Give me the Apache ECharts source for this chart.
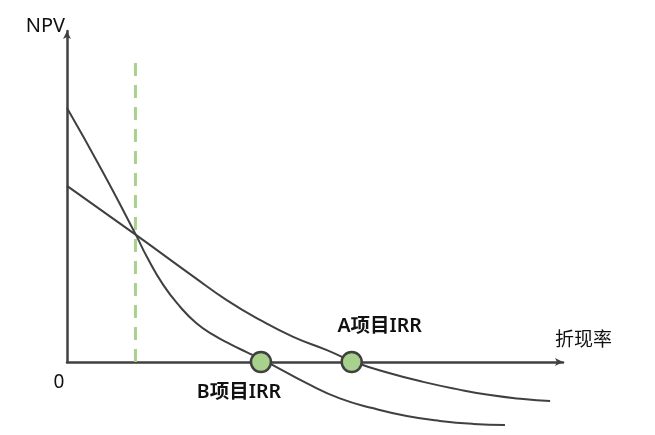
<!DOCTYPE html>
<html>
<head>
<meta charset="utf-8">
<script src="https://cdn.jsdelivr.net/npm/echarts@6/dist/echarts.min.js"></script>
<style>
html,body{margin:0;padding:0;background:#fff;}
#chart{width:655px;height:435px;}
</style>
</head>
<body>
<div id="chart"></div>
<script>
// Discount rate (x) and NPV (y), arbitrary units
const rateA = [0, 13.9, 25.5, 32.2, 38.9, 45.6, 52.4, 57.9, 65.1, 71.8, 78.6, 85.3, 92.0, 97.4];
const npvA  = [53.2, 38.4, 25.8, 18.7, 12.7, 7.6, 3.6, 0, -3.4, -6.0, -8.2, -10.0, -11.2, -11.8];
const rateB = [0, 7.0, 13.9, 16.1, 19.4, 22.8, 26.1, 29.5, 32.9, 36.2, 38.9, 41.3, 48.3, 55.0, 61.8, 68.5, 75.2, 81.9, 88.3];
const npvB  = [76.7, 58.0, 38.4, 31.8, 23.3, 16.7, 11.7, 8.2, 5.4, 3.0, 1.1, -0.8, -6.4, -11.0, -14.0, -16.3, -17.8, -18.7, -19.0];
const irrRates = [57.4, 39.1];
const irrNames = ['A项目IRR', 'B项目IRR'];
const dashRate = [13.8, 13.8];
const dashNpv  = [0, 92.2];
const xTickLabels = ['0'];

const FONT = '"Noto Sans", "Noto Sans CJK SC", sans-serif';
const AXIS = '#404040';

const zip = (a, b) => a.map((v, i) => [v, b[i]]);

const chart = echarts.init(document.getElementById('chart'));
chart.setOption({
  animation: false,
  backgroundColor: '#fff',
  grid: { left: 67, top: 31, width: 496, height: 331, containLabel: false },
  xAxis: {
    type: 'value', min: 0, max: 100,
    name: '折现率', nameLocation: 'end', nameGap: -8,
    nameTextStyle: { fontFamily: FONT, fontSize: 19, color: '#111', align: 'left', verticalAlign: 'bottom', padding: [0, 0, 12, 0] },
    axisLine: { show: true, lineStyle: { color: AXIS, width: 2.5 }, symbol: ['none', 'arrow'], symbolSize: [6, 8] },
    axisTick: { show: false },
    splitLine: { show: false },
    axisLabel: {
      customValues: [0], formatter: () => xTickLabels[0],
      fontFamily: FONT, fontSize: 19, color: '#111', margin: 11,
      padding: [0, 16, 0, 0]
    }
  },
  yAxis: {
    type: 'value', min: 0, max: 100,
    name: 'NPV', nameLocation: 'end', nameGap: -5,
    nameTextStyle: { fontFamily: FONT, fontSize: 20, color: '#111', align: 'right', padding: [0, 2, 0, 0] },
    axisLine: { show: true, lineStyle: { color: AXIS, width: 2.5 }, symbol: ['none', 'arrow'], symbolSize: [6, 8] },
    axisTick: { show: false },
    splitLine: { show: false },
    axisLabel: { show: false }
  },
  series: [
    {
      type: 'line', data: zip(dashRate, dashNpv), symbol: 'none', clip: false, z: 1,
      lineStyle: { color: '#a9d18e', width: 3, type: [13, 9] }
    },
    {
      type: 'line', data: zip(rateA, npvA), smooth: 0.5, symbol: 'none', clip: false, z: 3,
      lineStyle: { color: AXIS, width: 2 }
    },
    {
      type: 'line', data: zip(rateB, npvB), smooth: 0.5, symbol: 'none', clip: false, z: 3,
      lineStyle: { color: AXIS, width: 2 }
    },
    {
      type: 'scatter', clip: false, z: 5,
      symbolSize: 20,
      itemStyle: { color: '#a9d18e', borderColor: AXIS, borderWidth: 2.5, opacity: 1 },
      data: [
        { value: [irrRates[0], 0], name: irrNames[0],
          label: { show: true, position: 'top', distance: 5, offset: [28, -10] } },
        { value: [irrRates[1], 0], name: irrNames[1],
          label: { show: true, position: 'bottom', distance: 5, offset: [-22, 4] } }
      ],
      label: { formatter: p => p.name, fontFamily: FONT, fontSize: 19.5, fontWeight: 600, color: '#111' }
    }
  ]
});
</script>
</body>
</html>
